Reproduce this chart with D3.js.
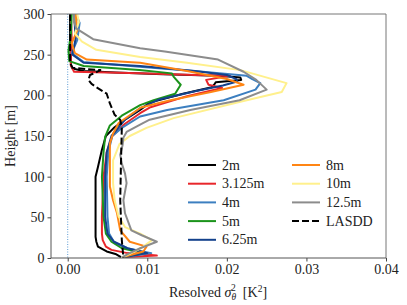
<!DOCTYPE html>
<html><head><meta charset="utf-8">
<script src="https://cdn.jsdelivr.net/npm/d3@7"></script>
<style>body{margin:0;background:#fff}svg{display:block}text{font-family:"Liberation Serif","DejaVu Serif",serif;fill:#222}</style>
</head><body>
<script>
// ---- data: height [m] and resolved variance [K^2] per series ----
const seriesNames = ["2m","3.125m","4m","5m","6.25m","8m","10m","12.5m","LASDD"];
const seriesColors = ["#000000","#e8262b","#3c7fc0","#1b931b","#14428c","#ff8514","#fff08c","#8c8c8c","#000000"];

const h_2m = [300,270,245,237,233,230,228,226,224,222,219,216,213,210,202,191,182,170,160,150,133,112,100,87,50,26,20,14,8,5,1];
const v_2m = [0.0003,0.0003,0.0004,0.0004,0.0006,0.002,0.006,0.012,0.019,0.0217,0.0218,0.0186,0.0184,0.0181,0.0145,0.0103,0.0091,0.0072,0.0058,0.0048,0.0043,0.0038,0.0035,0.0035,0.0035,0.0035,0.0036,0.0038,0.0049,0.006,0.0067];

const h_3125 = [300,270,250,237,229,227,225,224,219,213,209,199,185,178,165,150,130,100,51,30,22,14,10,6,3,1];
const v_3125 = [0.0004,0.0005,0.0004,0.0004,0.0008,0.009,0.016,0.0204,0.0174,0.0177,0.0194,0.015,0.0103,0.0091,0.0072,0.0056,0.0049,0.0045,0.0043,0.0043,0.0044,0.0048,0.0055,0.0075,0.0112,0.0070];

const h_4 = [300,289,268,252,241,235,229,224,220,215,207,194,182,174,160,150,130,100,51,30,20,12,6,1];
const v_4 = [0.0010,0.0015,0.0012,0.0005,0.002,0.009,0.017,0.0225,0.0232,0.0242,0.0236,0.0196,0.0125,0.0091,0.0068,0.0056,0.0051,0.0049,0.0050,0.0052,0.0058,0.0075,0.0105,0.0069];

const h_5 = [300,275,255,242,236,231,227,223,213,202,194,188,175,163,149,130,100,51,30,20,12,6,1];
const v_5 = [0.0005,0.0004,0.0001,0.0002,0.002,0.009,0.0131,0.0133,0.0142,0.0135,0.0108,0.0091,0.0068,0.0053,0.0047,0.0045,0.0043,0.0045,0.0048,0.0055,0.0068,0.0095,0.0069];

const h_625 = [300,270,250,240,236,230,225,220,217,212,205,195,184,170,150,130,100,51,30,20,12,6,1];
const v_625 = [0.0008,0.0010,0.0006,0.002,0.0091,0.016,0.020,0.0212,0.0213,0.0195,0.016,0.0115,0.0091,0.0072,0.0055,0.0049,0.0047,0.0047,0.005,0.0058,0.0075,0.0100,0.0069];

const h_8 = [300,280,264,252,244,240,230,220,213,204,194,185,166,153,141,116,88,71,55,34,20,14,8,4,1];
const v_8 = [0.0010,0.0012,0.0005,0.0009,0.0024,0.0091,0.015,0.020,0.0221,0.018,0.0129,0.0092,0.0064,0.0057,0.0053,0.0053,0.0053,0.0057,0.0062,0.0066,0.0078,0.0099,0.0095,0.008,0.0069];

const h_10 = [300,290,276,266,256,247,240,231,215,204,192,172,160,150,140,120,92,71,51,38,30,22,12,5,1];
const v_10 = [0.0012,0.0014,0.0009,0.0018,0.0036,0.0091,0.015,0.0217,0.0275,0.0269,0.0217,0.0133,0.0099,0.0078,0.0065,0.0057,0.0057,0.0059,0.0064,0.0072,0.0091,0.0106,0.0092,0.0078,0.0069];

const h_125 = [300,290,282,269,258,254,244,229,219,207,194,182,170,164,155,148,139,127,116,104,92,71,55,34,28,20,12,5,1];
const v_125 = [0.0008,0.0008,0.0011,0.0032,0.0091,0.0122,0.0189,0.0221,0.0237,0.0250,0.0216,0.0154,0.0103,0.0091,0.0074,0.0070,0.0069,0.0066,0.0068,0.0072,0.0074,0.0070,0.0072,0.0080,0.0093,0.0112,0.0091,0.0076,0.0069];

const h_lasdd = [300,240,234,232,231,228,225,219,214,210,202,190,176,170,160,120,71,22,0];
const v_lasdd = [0.0003,0.0003,0.0006,0.0025,0.0041,0.0035,0.0028,0.0026,0.003,0.0036,0.0049,0.0053,0.0059,0.0066,0.0068,0.0067,0.0066,0.0068,0.007];

const seriesH = [h_2m,h_3125,h_4,h_5,h_625,h_8,h_10,h_125,h_lasdd];
const seriesV = [v_2m,v_3125,v_4,v_5,v_625,v_8,v_10,v_125,v_lasdd];

const xTicks = [0,0.01,0.02,0.03,0.04];
const yTicks = [0,50,100,150,200,250,300];

// ---- layout ----
const W = 407, H = 305;
const L = 51, R = 386, T = 14, B = 258;
const FS = 14;
const svg = d3.select("body").append("svg").attr("width", W).attr("height", H);
const x = d3.scaleLinear().domain([-0.0021, 0.04]).range([L, R]);
const y = d3.scaleLinear().domain([0, 300]).range([B, T]);

// zero reference line
svg.append("line").attr("x1", x(0)).attr("x2", x(0)).attr("y1", T).attr("y2", B)
  .attr("stroke", "#5b9bd5").attr("stroke-width", 1).attr("stroke-dasharray", "1,1.5");

svg.append("clipPath").attr("id","c").append("rect").attr("x",L).attr("y",T).attr("width",R-L).attr("height",B-T);
const g = svg.append("g").attr("clip-path","url(#c)");
const line = d3.line().x(d => x(d[1])).y(d => y(d[0]));
seriesNames.forEach((n, i) => {
  const pts = seriesH[i].map((hh, j) => [hh, seriesV[i][j]]);
  g.append("path").attr("d", line(pts)).attr("fill","none")
    .attr("stroke", seriesColors[i]).attr("stroke-width", 2)
    .attr("stroke-linejoin","round")
    .attr("stroke-dasharray", n === "LASDD" ? "7,3" : null);
});

// axes
const xAxis = svg.append("g").attr("transform", `translate(0,${B})`)
  .call(d3.axisBottom(x).tickValues(xTicks).tickFormat(d3.format(".2f")).tickSize(3.5).tickPadding(3));
const yAxis = svg.append("g").attr("transform", `translate(${L},0)`)
  .call(d3.axisLeft(y).tickValues(yTicks).tickSize(3.5).tickPadding(3));
[xAxis, yAxis].forEach(a => {
  a.select(".domain").remove();
  a.selectAll("line").attr("stroke", "#444");
  a.selectAll("text").attr("font-size", FS).attr("fill", "#222")
    .style("font-family", '"Liberation Serif", serif');
});
// spines
svg.append("line").attr("x1",L).attr("x2",R).attr("y1",T).attr("y2",T).attr("stroke","#777").attr("stroke-width",1);
svg.append("line").attr("x1",R).attr("x2",R).attr("y1",T).attr("y2",B).attr("stroke","#777").attr("stroke-width",1);
svg.append("line").attr("x1",L).attr("x2",L).attr("y1",T).attr("y2",B).attr("stroke","#555").attr("stroke-width",1);
svg.append("line").attr("x1",L).attr("x2",R).attr("y1",B).attr("y2",B).attr("stroke","#555").attr("stroke-width",1);

// axis labels
svg.append("text").attr("transform", `translate(15,${(T+B)/2}) rotate(-90)`)
  .attr("text-anchor","middle").attr("font-size",FS).text("Height [m]");
const xl = svg.append("text").attr("x", 218).attr("y", 297).attr("text-anchor","middle").attr("font-size",FS);
xl.append("tspan").text("Resolved ");
xl.append("tspan").attr("font-style","italic").text("σ");
xl.append("tspan").attr("font-size",9.5).attr("font-style","italic").attr("dy",3).text("θ");
xl.append("tspan").attr("font-size",9.5).attr("dx",-5).attr("dy",-9).text("2");
xl.append("tspan").attr("dy",6).text("\u2002[K");
xl.append("tspan").attr("font-size",9.5).attr("dy",-5).text("2");
xl.append("tspan").attr("dy",5).text("]");

// legend
const leg = svg.append("g");
seriesNames.forEach((n, i) => {
  const col = i < 5 ? 0 : 1, row = i < 5 ? i : i - 5;
  const lx = col === 0 ? 188 : 292, ly = 165 + row * 18.7;
  leg.append("line").attr("x1", lx).attr("x2", lx + 28).attr("y1", ly).attr("y2", ly)
    .attr("stroke", seriesColors[i]).attr("stroke-width", 2)
    .attr("stroke-dasharray", n === "LASDD" ? "7,3" : null);
  leg.append("text").attr("x", lx + 34).attr("y", ly + 4.5).attr("font-size", FS).text(n);
});
</script>
</body></html>
